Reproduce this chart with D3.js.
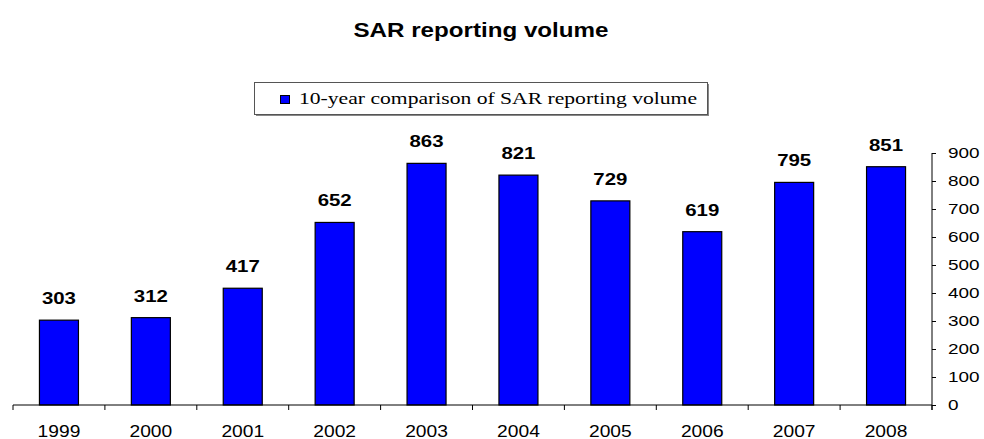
<!DOCTYPE html>
<html>
<head>
<meta charset="utf-8">
<script src="https://cdn.jsdelivr.net/npm/d3@7"></script>
<style>
  body { margin: 0; background: #fff; }
  svg { display: block; }
</style>
</head>
<body>
<svg id="chart"></svg>
<script>
// data
const years = ["1999", "2000", "2001", "2002", "2003", "2004", "2005", "2006", "2007", "2008"];
const volumes = [303, 312, 417, 652, 863, 821, 729, 619, 795, 851];
const yTicks = [0, 100, 200, 300, 400, 500, 600, 700, 800, 900];
const seriesName = "10-year comparison of SAR reporting volume";

const width = 984, height = 439;
const plotLeft = 13, plotRight = 932, plotTop = 153, plotBottom = 405;
const sans = "Liberation Sans, Arial, sans-serif";

const svg = d3.select("#chart")
    .attr("width", width)
    .attr("height", height);

// the original text is a little wider than the font, stretch it sideways
function stretch(sel, k) {
    sel.each(function () {
        const w = this.getComputedTextLength();
        this.setAttribute("textLength", w * k);
        this.setAttribute("lengthAdjust", "spacingAndGlyphs");
    });
}

const x = d3.scaleBand()
    .domain(years)
    .range([plotLeft, plotRight]);

const y = d3.scaleLinear()
    .domain([0, 900])
    .range([plotBottom, plotTop]);

// title
svg.append("text")
    .attr("x", 481)
    .attr("y", 37)
    .attr("text-anchor", "middle")
    .attr("font-family", sans)
    .attr("font-weight", "bold")
    .attr("font-size", 21)
    .text("SAR reporting volume")
    .call(stretch, 1.15);

// legend
const lg = svg.append("g");
lg.append("rect")
    .attr("x", 256).attr("y", 84)
    .attr("width", 453).attr("height", 32)
    .attr("fill", "#888");
lg.append("rect")
    .attr("x", 254.5).attr("y", 82.5)
    .attr("width", 453).attr("height", 32)
    .attr("fill", "#fff")
    .attr("stroke", "#555")
    .attr("stroke-width", 1);
lg.append("rect")
    .attr("x", 280.5).attr("y", 95.5)
    .attr("width", 9).attr("height", 8)
    .attr("fill", "#0000ff")
    .attr("stroke", "#000");
lg.append("text")
    .attr("x", 299)
    .attr("y", 104)
    .attr("font-family", "Liberation Serif, Times New Roman, serif")
    .attr("font-size", 16.5)
    .attr("textLength", 398)
    .attr("lengthAdjust", "spacingAndGlyphs")
    .text(seriesName);

// bars
const barW = 39;
svg.append("g")
    .selectAll("rect")
    .data(volumes)
    .join("rect")
    .attr("x", (d, i) => x(years[i]) + x.bandwidth() / 2 - barW / 2)
    .attr("y", d => y(d))
    .attr("width", barW)
    .attr("height", d => y(0) - y(d))
    .attr("fill", "#0000ff")
    .attr("stroke", "#000")
    .attr("stroke-width", 1.2);

// value labels
svg.append("g")
    .selectAll("text")
    .data(volumes)
    .join("text")
    .attr("x", (d, i) => x(years[i]) + x.bandwidth() / 2)
    .attr("y", d => y(d) - 16)
    .attr("text-anchor", "middle")
    .attr("font-family", sans)
    .attr("font-weight", "bold")
    .attr("font-size", 17)
    .text(d => d)
    .call(stretch, 1.2);

// x axis
const xAxis = svg.append("g")
    .attr("transform", `translate(0,${plotBottom})`);
xAxis.append("line")
    .attr("x1", plotLeft).attr("x2", plotRight)
    .attr("stroke", "#000");
xAxis.selectAll("line.tick")
    .data(years.concat([null]))
    .join("line")
    .attr("class", "tick")
    .attr("x1", (d, i) => plotLeft + i * x.step())
    .attr("x2", (d, i) => plotLeft + i * x.step())
    .attr("y1", 0).attr("y2", 5)
    .attr("stroke", "#000");
xAxis.selectAll("text")
    .data(years)
    .join("text")
    .attr("x", d => x(d) + x.bandwidth() / 2)
    .attr("y", 32)
    .attr("text-anchor", "middle")
    .attr("font-family", sans)
    .attr("font-size", 16)
    .text(d => d)
    .call(stretch, 1.2);

// y axis on the right
const yAxis = svg.append("g")
    .attr("transform", `translate(${plotRight},0)`)
    .call(d3.axisRight(y).tickValues(yTicks).tickSize(4).tickPadding(12));
yAxis.select(".domain").attr("d", `M0,${plotTop}V${plotBottom + 5}`);
yAxis.selectAll("text")
    .attr("font-family", sans)
    .attr("font-size", 15.5)
    .attr("fill", "#000")
    .call(stretch, 1.22);
</script>
</body>
</html>
